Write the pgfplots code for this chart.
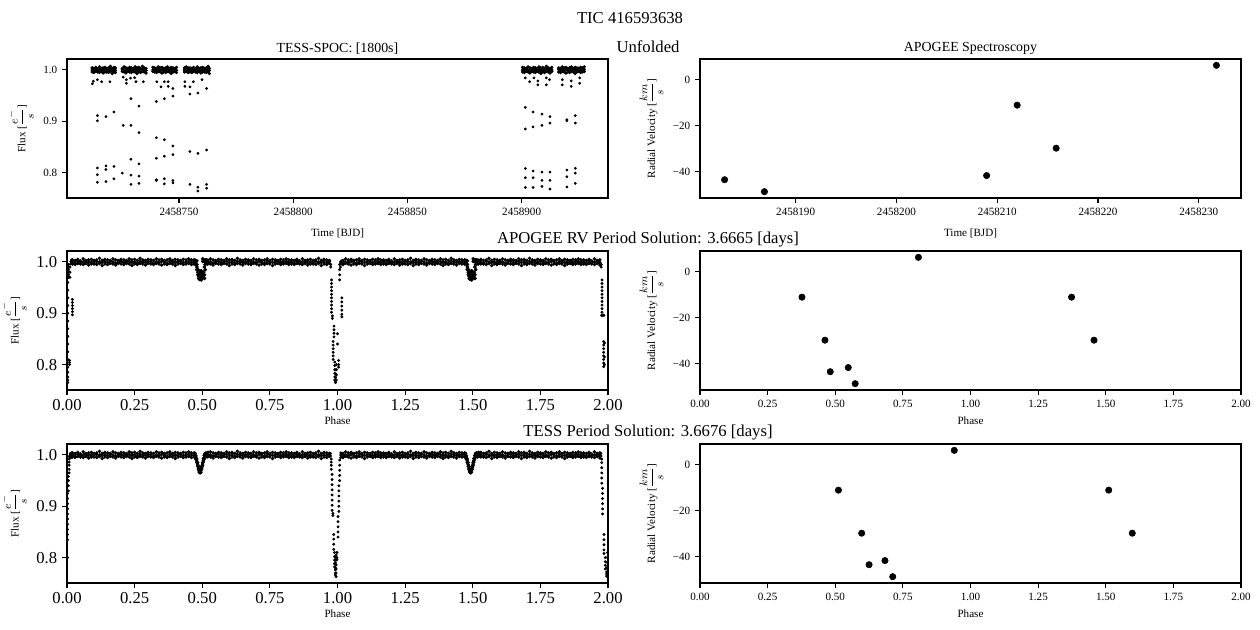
\documentclass[border=0pt]{standalone}
\usepackage{fontspec}
\setmainfont{Liberation Serif}
\usepackage{pgfplots}
\pgfplotsset{compat=1.18}
\usepackage{pgfplotstable}

\pgfplotsset{
  mpl/.style={
    scale only axis, width=389.52pt, height=100.08pt,
    anchor=north west,
    axis line style={line width=0.8pt},
    every tick/.style={line width=0.8pt, black},
    tick align=outside, major tick length=3.5pt,
    xtick pos=bottom, ytick pos=left,
    /pgf/number format/assume math mode=true,
    tick label style={font=\fontsize{8}{9.6}\selectfont},
    label style={font=\fontsize{8}{9.6}\selectfont},
    title style={font=\fontsize{10}{12}\selectfont, at={(0.5,1)}, anchor=south, yshift=-4.2pt, inner sep=1pt},
    every axis plot/.append style={only marks, mark=*, black, mark options={solid, fill=black, draw=black}},
  },
  big/.style={tick label style={font=\fontsize{12}{14.4}\selectfont}, xlabel style={yshift=2.5pt}},
  tlab/.style={xlabel style={yshift=-3pt}},
}

% folded baseline (phase, three flux levels of the noisy band)
\pgfplotstableread[row sep=\\]{
x a b c\\
0.02 1.004 1.000 0.996\\ 0.03 1.003 0.998 0.995\\ 0.04 1.005 1.001 0.997\\ 0.05 1.002 0.999 0.996\\ 0.06 1.006 1.000 0.995\\
0.07 1.003 1.001 0.997\\ 0.08 1.004 0.999 0.994\\ 0.09 1.005 1.000 0.996\\ 0.10 1.003 0.998 0.996\\ 0.11 1.004 1.001 0.995\\
0.12 1.007 1.000 0.997\\ 0.13 1.003 0.999 0.993\\ 0.14 1.005 1.000 0.996\\ 0.15 1.004 0.999 0.995\\ 0.16 1.003 1.001 0.997\\
0.17 1.006 1.000 0.996\\ 0.18 1.004 0.998 0.994\\ 0.19 1.003 1.000 0.997\\ 0.20 1.005 1.001 0.996\\ 0.21 1.004 0.999 0.995\\
0.22 1.003 1.000 0.997\\ 0.23 1.006 1.001 0.996\\ 0.24 1.004 0.999 0.993\\ 0.25 1.005 1.000 0.996\\ 0.26 1.003 0.998 0.995\\
0.27 1.007 1.001 0.997\\ 0.28 1.004 1.000 0.996\\ 0.29 1.003 0.999 0.994\\ 0.30 1.005 1.000 0.997\\ 0.31 1.004 1.001 0.996\\
0.32 1.003 0.998 0.995\\ 0.33 1.006 1.000 0.997\\ 0.34 1.004 0.999 0.996\\ 0.35 1.005 1.001 0.994\\ 0.36 1.003 1.000 0.996\\
0.37 1.004 0.998 0.995\\ 0.38 1.006 1.001 0.997\\ 0.39 1.003 1.000 0.996\\ 0.40 1.005 0.999 0.993\\ 0.41 1.004 1.000 0.996\\
0.42 1.003 1.001 0.997\\ 0.43 1.005 0.999 0.995\\ 0.44 1.004 1.000 0.996\\ 0.45 1.006 1.001 0.997\\ 0.46 1.004 0.999 0.995\\
0.53 1.006 1.000 0.996\\ 0.54 1.004 0.998 0.994\\ 0.55 1.003 1.000 0.997\\ 0.56 1.005 1.001 0.996\\ 0.57 1.004 0.999 0.995\\
0.58 1.003 1.000 0.997\\ 0.59 1.006 1.001 0.996\\ 0.60 1.004 0.999 0.993\\ 0.61 1.005 1.000 0.996\\ 0.62 1.003 0.998 0.995\\
0.63 1.007 1.001 0.997\\ 0.64 1.004 1.000 0.996\\ 0.65 1.003 0.999 0.994\\ 0.66 1.005 1.000 0.997\\ 0.67 1.004 1.001 0.996\\
0.68 1.003 0.998 0.995\\ 0.69 1.006 1.000 0.997\\ 0.70 1.004 0.999 0.996\\ 0.71 1.005 1.001 0.994\\ 0.72 1.003 1.000 0.996\\
0.73 1.004 0.998 0.995\\ 0.74 1.006 1.001 0.997\\ 0.75 1.003 1.000 0.996\\ 0.76 1.005 0.999 0.993\\ 0.77 1.004 1.000 0.996\\
0.78 1.003 1.001 0.997\\ 0.79 1.005 0.999 0.995\\ 0.80 1.004 1.000 0.996\\ 0.81 1.006 1.001 0.997\\ 0.82 1.004 0.999 0.995\\
0.83 1.004 1.000 0.996\\ 0.84 1.003 0.998 0.995\\ 0.85 1.005 1.001 0.997\\ 0.86 1.002 0.999 0.996\\ 0.87 1.006 1.000 0.995\\
0.88 1.003 1.001 0.997\\ 0.89 1.004 0.999 0.994\\ 0.90 1.005 1.000 0.996\\ 0.91 1.003 0.998 0.996\\ 0.92 1.004 1.001 0.995\\
0.93 1.007 1.000 0.997\\ 0.94 1.003 0.999 0.993\\ 0.95 1.005 1.000 0.996\\ 0.96 1.004 0.999 0.995\\ 0.97 1.003 1.001 0.997\\
1.02 1.003 0.998 0.995\\ 1.03 1.006 1.000 0.997\\ 1.04 1.004 0.999 0.996\\ 1.05 1.005 1.001 0.994\\ 1.06 1.003 1.000 0.996\\
1.07 1.004 0.998 0.995\\ 1.08 1.006 1.001 0.997\\ 1.09 1.003 1.000 0.996\\ 1.10 1.005 0.999 0.993\\ 1.11 1.004 1.000 0.996\\
1.12 1.003 1.001 0.997\\ 1.13 1.005 0.999 0.995\\ 1.14 1.004 1.000 0.996\\ 1.15 1.006 1.001 0.997\\ 1.16 1.004 0.999 0.995\\
1.17 1.004 1.000 0.996\\ 1.18 1.003 0.998 0.995\\ 1.19 1.005 1.001 0.997\\ 1.20 1.002 0.999 0.996\\ 1.21 1.006 1.000 0.995\\
1.22 1.003 1.001 0.997\\ 1.23 1.004 0.999 0.994\\ 1.24 1.005 1.000 0.996\\ 1.25 1.003 0.998 0.996\\ 1.26 1.004 1.001 0.995\\
1.27 1.007 1.000 0.997\\ 1.28 1.003 0.999 0.993\\ 1.29 1.005 1.000 0.996\\ 1.30 1.004 0.999 0.995\\ 1.31 1.003 1.001 0.997\\
1.32 1.006 1.000 0.996\\ 1.33 1.004 0.998 0.994\\ 1.34 1.003 1.000 0.997\\ 1.35 1.005 1.001 0.996\\ 1.36 1.004 0.999 0.995\\
1.37 1.003 1.000 0.997\\ 1.38 1.006 1.001 0.996\\ 1.39 1.004 0.999 0.993\\ 1.40 1.005 1.000 0.996\\ 1.41 1.003 0.998 0.995\\
1.42 1.007 1.001 0.997\\ 1.43 1.004 1.000 0.996\\ 1.44 1.003 0.999 0.994\\ 1.45 1.005 1.000 0.997\\ 1.46 1.004 1.001 0.996\\
1.53 1.005 1.000 0.996\\ 1.54 1.003 0.998 0.996\\ 1.55 1.004 1.001 0.995\\ 1.56 1.007 1.000 0.997\\ 1.57 1.003 0.999 0.993\\
1.58 1.005 1.000 0.996\\ 1.59 1.004 0.999 0.995\\ 1.60 1.003 1.001 0.997\\ 1.61 1.006 1.000 0.996\\ 1.62 1.004 0.998 0.994\\
1.63 1.003 1.000 0.997\\ 1.64 1.005 1.001 0.996\\ 1.65 1.004 0.999 0.995\\ 1.66 1.003 1.000 0.997\\ 1.67 1.006 1.001 0.996\\
1.68 1.004 0.999 0.993\\ 1.69 1.005 1.000 0.996\\ 1.70 1.003 0.998 0.995\\ 1.71 1.007 1.001 0.997\\ 1.72 1.004 1.000 0.996\\
1.73 1.003 0.999 0.994\\ 1.74 1.005 1.000 0.997\\ 1.75 1.004 1.001 0.996\\ 1.76 1.003 0.998 0.995\\ 1.77 1.006 1.000 0.997\\
1.78 1.004 0.999 0.996\\ 1.79 1.005 1.001 0.994\\ 1.80 1.003 1.000 0.996\\ 1.81 1.004 0.998 0.995\\ 1.82 1.006 1.001 0.997\\
1.83 1.003 1.000 0.996\\ 1.84 1.005 0.999 0.993\\ 1.85 1.004 1.000 0.996\\ 1.86 1.003 1.001 0.997\\ 1.87 1.005 0.999 0.995\\
1.88 1.004 1.000 0.996\\ 1.89 1.006 1.001 0.997\\ 1.90 1.004 0.999 0.995\\ 1.91 1.004 1.000 0.996\\ 1.92 1.003 0.998 0.995\\
1.93 1.005 1.001 0.997\\ 1.94 1.002 0.999 0.996\\ 1.95 1.006 1.000 0.995\\ 1.96 1.003 1.001 0.997\\ 1.97 1.004 0.999 0.994\\
}\foldbase

% unfolded band (BJD - 2458700)
\pgfplotstableread[row sep=\\]{
x a b c\\
12.0 1.004 1.000 0.996\\ 12.8 1.003 0.998 0.995\\ 13.6 1.005 1.001 0.997\\ 14.4 1.002 0.999 0.996\\ 15.2 1.006 1.000 0.995\\
16.0 1.003 1.001 0.997\\ 16.8 1.004 0.999 0.994\\ 17.6 1.005 1.000 0.996\\ 18.4 1.003 0.998 0.996\\ 19.2 1.004 1.001 0.995\\
20.0 1.007 1.000 0.997\\ 20.8 1.003 0.999 0.993\\ 21.6 1.005 1.000 0.996\\ 22.2 1.004 0.999 0.995\\
25.2 1.003 1.001 0.997\\ 26.0 1.006 1.000 0.996\\ 26.8 1.004 0.998 0.994\\ 27.6 1.003 1.000 0.997\\ 28.4 1.005 1.001 0.996\\
29.2 1.004 0.999 0.995\\ 30.0 1.003 1.000 0.997\\ 30.8 1.006 1.001 0.996\\ 31.6 1.004 0.999 0.993\\ 32.4 1.005 1.000 0.996\\
33.2 1.003 0.998 0.995\\ 34.0 1.007 1.001 0.997\\ 34.8 1.004 1.000 0.996\\ 35.6 1.003 0.999 0.994\\
38.6 1.005 1.000 0.997\\ 39.4 1.004 1.001 0.996\\ 40.2 1.003 0.998 0.995\\ 41.0 1.006 1.000 0.997\\ 41.8 1.004 0.999 0.996\\
42.6 1.005 1.001 0.994\\ 43.4 1.003 1.000 0.996\\ 44.2 1.004 0.998 0.995\\ 45.0 1.006 1.001 0.997\\ 45.8 1.003 1.000 0.996\\
46.6 1.005 0.999 0.993\\ 47.4 1.004 1.000 0.996\\ 48.2 1.003 1.001 0.997\\ 48.9 1.005 0.999 0.995\\
52.4 1.004 1.000 0.996\\ 53.2 1.006 1.001 0.997\\ 54.0 1.004 0.999 0.995\\ 54.8 1.004 1.000 0.996\\ 55.6 1.003 0.998 0.995\\
56.4 1.005 1.001 0.997\\ 57.2 1.002 0.999 0.996\\ 58.0 1.006 1.000 0.995\\ 58.8 1.003 1.001 0.997\\ 59.6 1.004 0.999 0.994\\
60.4 1.005 1.000 0.996\\ 61.2 1.003 0.998 0.996\\ 62.0 1.004 1.001 0.995\\ 62.8 1.007 1.000 0.997\\ 63.3 1.003 0.999 0.993\\
200.4 1.005 1.000 0.996\\ 201.2 1.004 0.999 0.995\\ 202.0 1.003 1.001 0.997\\ 202.8 1.006 1.000 0.996\\ 203.6 1.004 0.998 0.994\\
204.4 1.003 1.000 0.997\\ 205.2 1.005 1.001 0.996\\ 206.0 1.004 0.999 0.995\\ 206.8 1.003 1.000 0.997\\ 207.6 1.006 1.001 0.996\\
208.4 1.004 0.999 0.993\\ 209.2 1.005 1.000 0.996\\ 210.0 1.003 0.998 0.995\\ 210.8 1.007 1.001 0.997\\ 211.6 1.004 1.000 0.996\\
212.4 1.003 0.999 0.994\\ 213.2 1.005 1.000 0.997\\
216.2 1.004 1.001 0.996\\ 217.0 1.003 0.998 0.995\\ 217.8 1.006 1.000 0.997\\ 218.6 1.004 0.999 0.996\\ 219.4 1.005 1.001 0.994\\
220.2 1.003 1.000 0.996\\ 221.0 1.004 0.998 0.995\\ 221.8 1.006 1.001 0.997\\ 222.6 1.003 1.000 0.996\\ 223.4 1.005 0.999 0.993\\
224.2 1.004 1.000 0.996\\ 225.0 1.003 1.001 0.997\\ 225.8 1.005 0.999 0.995\\ 226.6 1.004 1.000 0.996\\ 227.4 1.006 1.001 0.997\\
}\tlband

% unfolded scattered points (BJD - 2458700)
\pgfplotstableread[row sep=\\]{
x y\\
12.1 0.973\\ 12.5 0.978\\ 14.3 0.981\\ 16.2 0.977\\ 19.8 0.977\\
14.3 0.911\\ 14.3 0.901\\ 18.05 0.909\\ 21.55 0.918\\
14.3 0.809\\ 14.3 0.796\\ 14.3 0.781\\ 18.05 0.813\\ 18.05 0.806\\ 18.05 0.7825\\ 21.55 0.812\\ 21.55 0.788\\ 25.2 0.799\\
25.6 0.892\\ 29.0 0.892\\ 32.5 0.878\\ 29.0 0.944\\ 32.5 0.9295\\ 29.0 0.826\\ 32.5 0.817\\
29.0 0.795\\ 29.0 0.777\\ 32.5 0.793\\ 32.5 0.779\\
25.6 0.986\\ 27.0 0.981\\ 28.8 0.984\\ 30.6 0.985\\ 31.2 0.977\\ 34.4 0.977\\ 27.0 0.974\\
40.1 0.9385\\ 43.6 0.944\\ 47.35 0.949\\ 40.1 0.868\\ 43.6 0.864\\ 47.35 0.852\\
40.1 0.828\\ 43.6 0.832\\ 47.35 0.835\\ 40.1 0.786\\ 40.1 0.7845\\ 43.6 0.788\\ 43.6 0.778\\ 47.35 0.7845\\ 47.35 0.780\\
40.3 0.977\\ 42.1 0.967\\ 43.6 0.977\\ 45.3 0.968\\ 45.3 0.977\\ 47.35 0.964\\
54.8 0.953\\ 58.3 0.955\\ 62.1 0.964\\ 54.8 0.841\\ 58.3 0.8375\\ 62.1 0.844\\
54.8 0.777\\ 58.3 0.7715\\ 58.3 0.764\\ 62.1 0.777\\ 62.1 0.7696\\
52.6 0.977\\ 52.6 0.968\\ 54.8 0.967\\ 56.3 0.977\\ 60.1 0.981\\
201.6 0.927\\ 205.0 0.918\\ 208.9 0.914\\ 212.4 0.909\\ 201.6 0.885\\ 205.0 0.889\\ 208.9 0.892\\ 212.4 0.8965\\
219.8 0.903\\ 219.8 0.901\\ 223.5 0.911\\ 223.5 0.8965\\
201.6 0.808\\ 205.0 0.803\\ 208.9 0.801\\ 212.4 0.801\\ 201.6 0.790\\ 205.0 0.790\\ 208.9 0.785\\ 212.4 0.785\\
201.6 0.771\\ 205.0 0.771\\ 208.9 0.773\\ 212.4 0.768\\ 219.8 0.805\\ 223.5 0.8084\\ 223.5 0.799\\ 219.8 0.792\\
219.8 0.772\\ 223.5 0.779\\
201.6 0.9845\\ 203.5 0.977\\ 205.4 0.9845\\ 207.1 0.971\\ 207.1 0.9786\\ 210.8 0.9845\\ 210.8 0.971\\ 212.2 0.981\\
217.8 0.981\\ 217.8 0.971\\ 221.7 0.968\\ 221.7 0.9786\\ 225.4 0.974\\ 225.4 0.9845\\
}\tlscat

% APOGEE-period fold: secondary eclipse blobs
\pgfplotstableread[row sep=\\]{
x y\\
0.470 1.004\\ 0.470 1.000\\ 0.470 0.996\\ 0.475 1.003\\ 0.475 0.999\\ 0.475 0.996\\
0.480 1.002\\ 0.480 0.995\\ 0.480 0.990\\ 0.480 0.985\\ 0.484 0.980\\ 0.484 0.975\\ 0.484 0.985\\
0.487 0.972\\ 0.487 0.978\\ 0.487 0.968\\ 0.490 0.970\\ 0.490 0.975\\ 0.490 0.980\\ 0.490 0.966\\
0.493 0.975\\ 0.493 0.968\\ 0.493 0.972\\ 0.493 0.980\\ 0.496 0.970\\ 0.496 0.977\\ 0.496 0.965\\ 0.496 0.983\\
0.499 0.972\\ 0.499 0.968\\ 0.499 0.980\\ 0.502 1.006\\ 0.502 1.001\\ 0.502 0.975\\ 0.502 0.970\\
0.505 0.970\\ 0.505 0.975\\ 0.505 0.980\\ 0.505 1.003\\ 0.508 0.968\\ 0.508 0.975\\ 0.508 0.990\\ 0.508 1.001\\
0.511 0.985\\ 0.511 0.995\\ 0.511 1.000\\ 0.511 1.004\\ 0.515 1.000\\ 0.515 1.004\\ 0.515 0.997\\
0.520 1.003\\ 0.520 0.999\\ 0.520 0.996\\
1.470 1.004\\ 1.470 1.000\\ 1.470 0.996\\ 1.475 1.003\\ 1.475 0.999\\ 1.475 0.996\\
1.480 1.002\\ 1.480 0.995\\ 1.480 0.990\\ 1.480 0.985\\ 1.484 0.980\\ 1.484 0.975\\ 1.484 0.985\\
1.487 0.972\\ 1.487 0.978\\ 1.487 0.968\\ 1.490 0.970\\ 1.490 0.975\\ 1.490 0.980\\ 1.490 0.966\\
1.493 0.975\\ 1.493 0.968\\ 1.493 0.972\\ 1.493 0.980\\ 1.496 0.970\\ 1.496 0.977\\ 1.496 0.965\\ 1.496 0.983\\
1.499 0.972\\ 1.499 0.968\\ 1.499 0.980\\ 1.502 1.006\\ 1.502 1.001\\ 1.502 0.975\\ 1.502 0.970\\
1.505 0.970\\ 1.505 0.975\\ 1.505 0.980\\ 1.505 1.003\\ 1.508 0.968\\ 1.508 0.975\\ 1.508 0.990\\ 1.508 1.001\\
1.511 0.985\\ 1.511 0.995\\ 1.511 1.000\\ 1.511 1.004\\ 1.515 1.000\\ 1.515 1.004\\ 1.515 0.997\\
1.520 1.003\\ 1.520 0.999\\ 1.520 0.996\\
}\mlsec

% APOGEE-period fold: primary eclipse points
\pgfplotstableread[row sep=\\]{
x y\\
0.003 0.765\\ 0.003 0.770\\ 0.003 0.776\\ 0.003 0.785\\ 0.003 0.795\\ 0.003 0.810\\ 0.003 0.825\\ 0.003 0.840\\
0.003 0.855\\ 0.003 0.870\\ 0.003 0.885\\ 0.003 0.900\\ 0.003 0.915\\ 0.003 0.930\\ 0.003 0.945\\ 0.003 0.960\\
0.006 0.970\\ 0.006 0.975\\ 0.006 0.980\\ 0.006 0.985\\ 0.006 0.990\\ 0.006 0.995\\
0.009 0.800\\ 0.009 0.804\\ 0.009 0.808\\ 0.011 0.970\\ 0.011 0.980\\ 0.011 0.990\\
0.014 0.996\\ 0.014 1.001\\ 0.017 0.998\\ 0.017 1.004\\
0.020 0.897\\ 0.020 0.903\\ 0.020 0.909\\ 0.020 0.915\\ 0.020 0.921\\ 0.020 0.927\\
0.975 0.995\\ 0.975 0.990\\
0.978 0.965\\ 0.978 0.958\\ 0.978 0.951\\ 0.978 0.944\\ 0.978 0.937\\ 0.978 0.930\\ 0.978 0.923\\ 0.978 0.916\\ 0.978 0.909\\ 0.978 0.902\\
0.981 0.895\\ 0.981 0.890\\
0.984 0.845\\ 0.984 0.838\\ 0.984 0.831\\ 0.984 0.824\\ 0.984 0.817\\ 0.984 0.810\\
0.987 0.875\\ 0.987 0.868\\ 0.987 0.861\\ 0.987 0.854\\
0.990 0.805\\ 0.990 0.798\\ 0.990 0.790\\ 0.990 0.783\\ 0.990 0.776\\ 0.990 0.770\\
0.993 0.768\\ 0.993 0.775\\ 0.993 0.765\\ 0.993 0.782\\ 0.993 0.790\\
0.996 0.780\\ 0.996 0.770\\ 0.996 0.800\\ 0.996 0.790\\
1.000 0.860\\ 1.000 0.840\\ 1.004 0.795\\ 1.004 0.800\\ 1.004 0.808\\
1.008 0.995\\ 1.008 0.985\\ 1.008 0.975\\ 1.008 0.965\\ 1.011 1.000\\ 1.011 0.990\\
1.014 0.996\\ 1.014 1.002\\
1.016 0.930\\ 1.016 0.922\\ 1.016 0.914\\ 1.016 0.906\\ 1.016 0.898\\ 1.016 0.893\\
1.975 0.995\\ 1.975 0.990\\
1.978 0.965\\ 1.978 0.958\\ 1.978 0.951\\ 1.978 0.944\\ 1.978 0.937\\ 1.978 0.930\\ 1.978 0.923\\ 1.978 0.916\\ 1.978 0.909\\ 1.978 0.902\\
1.976 0.896\\ 1.979 0.896\\ 1.982 0.896\\ 1.985 0.896\\
1.984 0.845\\ 1.984 0.838\\ 1.984 0.831\\ 1.984 0.824\\ 1.984 0.817\\ 1.984 0.810\\ 1.984 0.803\\ 1.984 0.796\\
1.987 0.842\\ 1.987 0.815\\ 1.987 0.800\\
}\mleclipse

% TESS-period fold: secondary eclipse (phase, three flux levels)
\pgfplotstableread[row sep=\\]{
x a b c\\
0.470 1.004 1.000 0.996\\ 0.474 1.003 0.999 0.995\\ 0.477 0.998 0.994 0.991\\ 0.480 0.992 0.988 0.985\\
0.483 0.985 0.981 0.978\\ 0.486 0.978 0.974 0.971\\ 0.489 0.972 0.968 0.966\\ 0.492 0.970 0.967 0.965\\
0.495 0.973 0.969 0.966\\ 0.498 0.978 0.975 0.972\\ 0.501 0.985 0.982 0.979\\ 0.504 0.993 0.989 0.986\\
0.507 0.999 0.995 0.992\\ 0.510 1.003 0.999 0.996\\ 0.514 1.004 1.000 0.997\\ 0.518 1.003 0.999 0.996\\ 0.522 1.005 1.001 0.997\\
1.470 1.004 1.000 0.996\\ 1.474 1.003 0.999 0.995\\ 1.477 0.998 0.994 0.991\\ 1.480 0.992 0.988 0.985\\
1.483 0.985 0.981 0.978\\ 1.486 0.978 0.974 0.971\\ 1.489 0.972 0.968 0.966\\ 1.492 0.970 0.967 0.965\\
1.495 0.973 0.969 0.966\\ 1.498 0.978 0.975 0.972\\ 1.501 0.985 0.982 0.979\\ 1.504 0.993 0.989 0.986\\
1.507 0.999 0.995 0.992\\ 1.510 1.003 0.999 0.996\\ 1.514 1.004 1.000 0.997\\ 1.518 1.003 0.999 0.996\\ 1.522 1.005 1.001 0.997\\
}\blsec

% TESS-period fold: primary eclipse points
\pgfplotstableread[row sep=\\]{
x y\\
0.002 0.800\\ 0.002 0.835\\ 0.002 0.845\\ 0.002 0.855\\ 0.002 0.865\\ 0.002 0.875\\ 0.002 0.885\\ 0.002 0.895\\
0.002 0.905\\ 0.002 0.915\\ 0.002 0.925\\ 0.005 0.930\\ 0.005 0.940\\ 0.005 0.950\\ 0.005 0.958\\
0.008 0.965\\ 0.008 0.972\\ 0.008 0.980\\ 0.008 0.986\\ 0.008 0.992\\ 0.008 0.997\\
0.012 1.000\\ 0.012 0.996\\ 0.012 1.003\\ 0.016 1.004\\ 0.016 0.999\\ 0.016 0.995\\
0.977 0.992\\ 0.977 0.986\\ 0.977 0.980\\ 0.977 0.972\\ 0.974 1.003\\ 0.974 0.998\\
0.980 0.962\\ 0.980 0.952\\ 0.980 0.942\\ 0.980 0.932\\ 0.980 0.922\\ 0.980 0.912\\ 0.980 0.902\\ 0.980 0.892\\
0.983 0.886\\ 0.983 0.882\\ 0.986 0.845\\ 0.986 0.836\\ 0.986 0.826\\ 0.986 0.816\\
0.989 0.810\\ 0.989 0.802\\ 0.989 0.795\\ 0.989 0.788\\ 0.989 0.782\\
0.992 0.776\\ 0.992 0.770\\ 0.992 0.766\\ 0.992 0.780\\ 0.992 0.790\\ 0.992 0.800\\
0.995 0.763\\ 0.995 0.770\\ 0.995 0.778\\ 0.995 0.786\\ 0.995 0.795\\ 0.995 0.805\\
0.998 0.800\\ 0.998 0.810\\ 0.998 0.796\\
1.002 0.840\\ 1.002 0.850\\ 1.002 0.860\\ 1.002 0.870\\ 1.002 0.880\\
1.005 0.890\\ 1.005 0.900\\ 1.005 0.910\\ 1.005 0.920\\ 1.005 0.930\\ 1.005 0.940\\
1.008 0.950\\ 1.008 0.960\\ 1.008 0.970\\ 1.008 0.980\\ 1.008 0.990\\
1.012 0.995\\ 1.012 1.000\\ 1.012 1.004\\ 1.016 0.996\\ 1.016 1.002\\
1.974 1.003\\ 1.974 0.998\\
1.977 0.992\\ 1.977 0.985\\ 1.977 0.975\\ 1.977 0.965\\ 1.977 0.955\\ 1.977 0.945\\
1.980 0.935\\ 1.980 0.925\\ 1.980 0.915\\ 1.980 0.905\\ 1.980 0.895\\ 1.980 0.885\\
1.985 0.845\\ 1.985 0.835\\ 1.985 0.825\\ 1.985 0.815\\ 1.985 0.808\\
1.990 0.800\\ 1.990 0.792\\ 1.990 0.785\\ 1.990 0.778\\
1.995 0.772\\ 1.995 0.768\\ 1.995 0.764\\ 1.995 0.780\\
1.998 0.763\\ 1.998 0.770\\ 1.998 0.790\\ 1.998 0.800\\ 1.998 0.810\\
}\blprim

\newcommand{\fluxlab}{Flux [$\displaystyle\frac{e^{-}}{s}$]}
\newcommand{\rvlab}{Radial Velocity [$\displaystyle\frac{km}{s}$]}

\begin{document}
\begin{tikzpicture}
\path[use as bounding box] (0,0) rectangle (907.2pt,-452.88pt);
\node[font=\fontsize{12}{14.4}\selectfont] at (453.6pt,-12.96pt) {TIC 416593638};
\node[font=\fontsize{12}{14.4}\selectfont] at (466.56pt,-33.84pt) {Unfolded};
\node[font=\fontsize{12}{14.4}\selectfont] at (466.56pt,-172.8pt) {APOGEE RV Period Solution: 3.6665 [days]};
\node[font=\fontsize{12}{14.4}\selectfont] at (466.56pt,-311.76pt) {TESS Period Solution: 3.6676 [days]};

% top left
\begin{axis}[mpl, tlab, at={(48.24pt,-42.48pt)},
  xmin=1, xmax=237.8, ymin=0.7505, ymax=1.0213,
  xtick={50,100,150,200}, xticklabels={2458750,2458800,2458850,2458900},
  ytick={0.8,0.9,1.0}, yticklabels={0.8,0.9,1.0},
  xlabel={Time [BJD]}, ylabel={\fluxlab}, title={TESS-SPOC: [1800s]}]
\addplot[mark size=1.0pt] table[x=x,y=a]{\tlband};
\addplot[mark size=1.0pt] table[x=x,y=b]{\tlband};
\addplot[mark size=1.0pt] table[x=x,y=c]{\tlband};
\addplot[mark size=0.8pt] table[x=x,y=y]{\tlscat};
\end{axis}

% top right
\begin{axis}[mpl, tlab, at={(504pt,-42.48pt)},
  xmin=0.51, xmax=54.19, ymin=-51.55, ymax=8.85,
  xtick={10,20,30,40,50}, xticklabels={2458190,2458200,2458210,2458220,2458230},
  ytick={-40,-20,0}, yticklabels={−40,−20,0},
  xlabel={Time [BJD]}, ylabel={\rvlab}, title={APOGEE Spectroscopy}]
\addplot[mark size=2.3pt] coordinates {(2.95,-43.6) (6.9,-48.8) (28.95,-41.8) (31.98,-11.2) (35.85,-29.9) (51.75,6.1)};
\end{axis}

% middle left
\begin{axis}[mpl, big, at={(48.24pt,-180.72pt)},
  xmin=0, xmax=2, ymin=0.7505, ymax=1.0213,
  xtick={0,0.25,0.5,0.75,1,1.25,1.5,1.75,2}, xticklabels={0.00,0.25,0.50,0.75,1.00,1.25,1.50,1.75,2.00},
  ytick={0.8,0.9,1.0}, yticklabels={0.8,0.9,1.0},
  xlabel={Phase}, ylabel={\fluxlab}]
\addplot[mark size=1.05pt] table[x=x,y=a]{\foldbase};
\addplot[mark size=1.05pt] table[x=x,y=b]{\foldbase};
\addplot[mark size=1.05pt] table[x=x,y=c]{\foldbase};
\addplot[mark size=1.15pt] table[x=x,y=y]{\mlsec};
\addplot[mark size=0.85pt] table[x=x,y=y]{\mleclipse};
\end{axis}

% middle right
\begin{axis}[mpl, at={(504pt,-180.72pt)},
  xmin=0, xmax=2, ymin=-51.55, ymax=8.85,
  xtick={0,0.25,0.5,0.75,1,1.25,1.5,1.75,2}, xticklabels={0.00,0.25,0.50,0.75,1.00,1.25,1.50,1.75,2.00},
  ytick={-40,-20,0}, yticklabels={−40,−20,0},
  xlabel={Phase}, ylabel={\rvlab}]
\addplot[mark size=2.3pt] coordinates {(0.377,-11.2) (0.462,-29.9) (0.4815,-43.6) (0.548,-41.8) (0.5736,-48.8) (0.8075,6.1) (1.3736,-11.2) (1.4566,-29.9)};
\end{axis}

% bottom left
\begin{axis}[mpl, big, at={(48.24pt,-319.68pt)},
  xmin=0, xmax=2, ymin=0.7505, ymax=1.0213,
  xtick={0,0.25,0.5,0.75,1,1.25,1.5,1.75,2}, xticklabels={0.00,0.25,0.50,0.75,1.00,1.25,1.50,1.75,2.00},
  ytick={0.8,0.9,1.0}, yticklabels={0.8,0.9,1.0},
  xlabel={Phase}, ylabel={\fluxlab}]
\addplot[mark size=1.05pt] table[x=x,y=a]{\foldbase};
\addplot[mark size=1.05pt] table[x=x,y=b]{\foldbase};
\addplot[mark size=1.05pt] table[x=x,y=c]{\foldbase};
\addplot[mark size=1.05pt] table[x=x,y=a]{\blsec};
\addplot[mark size=1.05pt] table[x=x,y=b]{\blsec};
\addplot[mark size=1.05pt] table[x=x,y=c]{\blsec};
\addplot[mark size=0.85pt] table[x=x,y=y]{\blprim};
\end{axis}

% bottom right
\begin{axis}[mpl, at={(504pt,-319.68pt)},
  xmin=0, xmax=2, ymin=-51.55, ymax=8.85,
  xtick={0,0.25,0.5,0.75,1,1.25,1.5,1.75,2}, xticklabels={0.00,0.25,0.50,0.75,1.00,1.25,1.50,1.75,2.00},
  ytick={-40,-20,0}, yticklabels={−40,−20,0},
  xlabel={Phase}, ylabel={\rvlab}]
\addplot[mark size=2.3pt] coordinates {(0.5117,-11.2) (0.5977,-29.9) (0.625,-43.6) (0.6838,-41.8) (0.7125,-48.8) (0.940,6.1) (1.511,-11.2) (1.598,-29.9)};
\end{axis}
\end{tikzpicture}
\end{document}
